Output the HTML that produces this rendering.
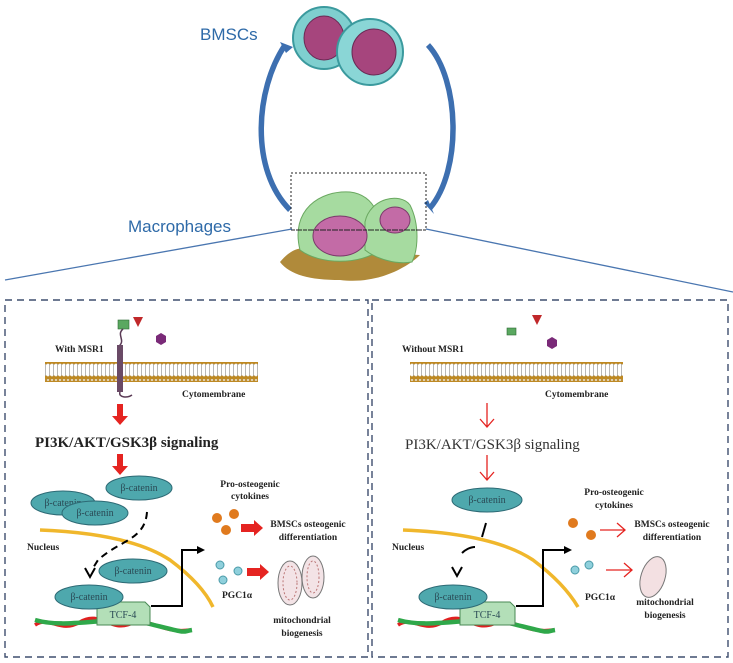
<!DOCTYPE html>
<html><head><meta charset="utf-8"><style>
html,body{margin:0;padding:0;background:#fff}
svg{display:block}
.b{font-family:"Liberation Serif",serif;font-weight:bold;fill:#222}
.s{font-family:"Liberation Sans",sans-serif;fill:#2e6aa8}
.bc{font-family:"Liberation Serif",serif;font-size:10px;fill:#2a4a55}
</style></head><body>
<svg width="733" height="663" viewBox="0 0 733 663" xmlns="http://www.w3.org/2000/svg">
<defs>
<pattern id="mem" x="0" y="0" width="4" height="20" patternUnits="userSpaceOnUse">
<circle cx="2" cy="2.2" r="2.1" fill="#c08a22" stroke="#9a6a10" stroke-width="0.3"/>
<line x1="1.5" y1="4" x2="1.5" y2="16" stroke="#999" stroke-width="0.7"/>
<circle cx="2" cy="17.8" r="2.1" fill="#c08a22" stroke="#9a6a10" stroke-width="0.3"/>
</pattern>
<marker id="bk" markerWidth="8" markerHeight="8" refX="6" refY="4" orient="auto" markerUnits="userSpaceOnUse"><path d="M0,0 L8,4 L0,8 z" fill="#000"/></marker>
</defs>

<!-- top -->
<text x="200" y="40" class="s" font-size="17">BMSCs</text>
<text x="128" y="232" class="s" font-size="17">Macrophages</text>
<path d="M285,45 C255,90 250,170 290,210" fill="none" stroke="#3d6fb0" stroke-width="5.5"/>
<path d="M280,42 L293,47 L286,53 z" fill="#3d6fb0"/>
<path d="M428,45 C460,80 462,170 430,208" fill="none" stroke="#3d6fb0" stroke-width="5.5"/>
<path d="M424,203 L434,214 L428,200 z" fill="#3d6fb0"/>
<circle cx="324" cy="38" r="31" fill="#7fcfcf" stroke="#3b9a9e" stroke-width="2"/>
<ellipse cx="324" cy="38" rx="20" ry="22" fill="#a6457d" stroke="#6a2a55"/>
<circle cx="370" cy="52" r="33" fill="#8ad6d6" stroke="#3b9a9e" stroke-width="2"/>
<ellipse cx="374" cy="52" rx="22" ry="23" fill="#a6457d" stroke="#6a2a55"/>
<path d="M280,262 C290,250 300,245 315,250 L420,255 C410,265 380,285 340,280 C310,280 290,275 280,262z" fill="#b08a3a"/>
<path d="M300,250 C290,210 320,190 350,192 C375,195 385,220 380,250 C360,265 320,265 300,250z" fill="#a6dba0" stroke="#6aa860"/>
<path d="M365,222 C370,198 400,192 410,205 C420,225 418,250 412,262 C395,265 375,258 365,250z" fill="#a6dba0" stroke="#6aa860"/>
<ellipse cx="340" cy="236" rx="27" ry="20" fill="#c36ba6" stroke="#7a3a6a"/>
<ellipse cx="395" cy="220" rx="15" ry="13" fill="#c36ba6" stroke="#7a3a6a"/>
<rect x="291" y="173" width="135" height="57" fill="none" stroke="#222" stroke-dasharray="2,2" stroke-width="1"/>
<line x1="291" y1="230" x2="426" y2="230" stroke="#222" stroke-dasharray="4,2"/>
<line x1="292" y1="229" x2="5" y2="280" stroke="#4a76b0" stroke-width="1.3"/>
<line x1="426" y1="229" x2="733" y2="292" stroke="#4a76b0" stroke-width="1.3"/>

<!-- panels -->
<rect x="5" y="300" width="363" height="357" fill="none" stroke="#3e4e6e" stroke-width="1.4" stroke-dasharray="7,5"/>
<rect x="372" y="300" width="356" height="357" fill="none" stroke="#3e4e6e" stroke-width="1.4" stroke-dasharray="7,5"/>

<!-- LEFT -->
<rect x="45" y="362" width="213" height="20" fill="url(#mem)"/>
<rect x="118" y="320" width="11" height="9" fill="#5aa860" stroke="#2d6a35" stroke-width="0.6"/>
<path d="M133,317 L143,317 L138,327 z" fill="#c0282a"/>
<polygon points="156,336 161,333 166,336 166,342 161,345 156,342" fill="#7a2a78"/>
<path d="M123,329 C116,335 126,340 119,346" fill="none" stroke="#5a3a55" stroke-width="1.5"/>
<rect x="117" y="345" width="6" height="47" fill="#6a4a66"/>
<path d="M120,392 C118,398 128,398 132,395" fill="none" stroke="#5a3a55" stroke-width="1.5"/>
<text x="55" y="352" class="b" font-size="9.5">With MSR1</text>
<text x="182" y="397" class="b" font-size="9.5">Cytomembrane</text>
<path d="M117,404 h6 v12 h5 l-8,9 l-8,-9 h5z" fill="#e52421"/>
<text x="35" y="447" class="b" font-size="15">PI3K/AKT/GSK3β signaling</text>
<path d="M117,454 h6 v12 h5 l-8,9 l-8,-9 h5z" fill="#e52421"/>
<ellipse cx="63" cy="503" rx="32" ry="12" fill="#4ea8ad" stroke="#2d6a75"/>
<text x="63" y="506" class="bc" text-anchor="middle">β-catenin</text>
<ellipse cx="95" cy="513" rx="33" ry="12" fill="#4ea8ad" stroke="#2d6a75"/>
<text x="95" y="516" class="bc" text-anchor="middle">β-catenin</text>
<ellipse cx="139" cy="488" rx="33" ry="12" fill="#4ea8ad" stroke="#2d6a75"/>
<text x="139" y="491" class="bc" text-anchor="middle">β-catenin</text>
<path d="M40,530 C90,532 140,540 170,560 C190,575 205,590 213,607" fill="none" stroke="#f0b72c" stroke-width="3.5"/>
<text x="27" y="550" class="b" font-size="9.5">Nucleus</text>
<path d="M147,512 C145,540 120,540 98,560 L93,568" fill="none" stroke="#000" stroke-width="2" stroke-dasharray="7,5"/>
<path d="M85,568 L90,577 L95,568" fill="none" stroke="#000" stroke-width="2"/>
<ellipse cx="133" cy="571" rx="34" ry="12" fill="#4ea8ad" stroke="#2d6a75"/>
<text x="133" y="574" class="bc" text-anchor="middle">β-catenin</text>
<path d="M35,625 C50,615 60,634 80,622 S110,632 130,624 S160,634 190,630" fill="none" stroke="#e02020" stroke-width="3.5"/>
<path d="M35,620 C70,630 110,614 150,624 S180,632 192,630" fill="none" stroke="#2fa84a" stroke-width="4.5"/>
<path d="M97,602 H145 L150,607 V625 H97z" fill="#b3dfb8" stroke="#4a8a55"/>
<text x="123" y="618" class="bc" text-anchor="middle">TCF-4</text>
<ellipse cx="89" cy="597" rx="34" ry="12" fill="#4ea8ad" stroke="#2d6a75"/>
<text x="89" y="600" class="bc" text-anchor="middle">β-catenin</text>
<path d="M151,606 H182 V550 H203" fill="none" stroke="#000" stroke-width="2" marker-end="url(#bk)"/>
<text x="250" y="487" class="b" font-size="9.5" text-anchor="middle">Pro-osteogenic</text>
<text x="250" y="499" class="b" font-size="9.5" text-anchor="middle">cytokines</text>
<circle cx="217" cy="518" r="5" fill="#e07a1e"/><circle cx="234" cy="514" r="5" fill="#e07a1e"/><circle cx="226" cy="530" r="5" fill="#e07a1e"/>
<path d="M241,524 h13 v-4 l9,8 l-9,8 v-4 h-13z" fill="#e52421"/>
<text x="308" y="527" class="b" font-size="9.5" text-anchor="middle">BMSCs osteogenic</text>
<text x="308" y="540" class="b" font-size="9.5" text-anchor="middle">differentiation</text>
<circle cx="220" cy="565" r="4" fill="#8fd0dc" stroke="#4a9aa8"/><circle cx="238" cy="571" r="4" fill="#8fd0dc" stroke="#4a9aa8"/><circle cx="223" cy="580" r="4" fill="#8fd0dc" stroke="#4a9aa8"/>
<path d="M247,568 h13 v-4 l9,8 l-9,8 v-4 h-13z" fill="#e52421"/>
<text x="222" y="598" class="b" font-size="9.5">PGC1α</text>
<ellipse cx="290" cy="583" rx="12" ry="22" fill="#f3e3e6" stroke="#777"/>
<ellipse cx="290" cy="583" rx="7" ry="17" fill="none" stroke="#b77" stroke-dasharray="2,2"/>
<ellipse cx="313" cy="577" rx="11" ry="21" fill="#f3e3e6" stroke="#777"/>
<ellipse cx="313" cy="577" rx="6" ry="16" fill="none" stroke="#b77" stroke-dasharray="2,2"/>
<text x="302" y="623" class="b" font-size="9.5" text-anchor="middle">mitochondrial</text>
<text x="302" y="636" class="b" font-size="9.5" text-anchor="middle">biogenesis</text>

<!-- RIGHT -->
<rect x="410" y="362" width="213" height="20" fill="url(#mem)"/>
<rect x="507" y="328" width="9" height="7" fill="#5aa860" stroke="#2d6a35" stroke-width="0.6"/>
<path d="M532,315 L542,315 L537,325 z" fill="#c0282a"/>
<polygon points="547,340 552,337 557,340 557,346 552,349 547,346" fill="#7a2a78"/>
<text x="402" y="352" class="b" font-size="9.5">Without MSR1</text>
<text x="545" y="397" class="b" font-size="9.5">Cytomembrane</text>
<path d="M487,403 V427 M480,419 L487,427 L494,419" fill="none" stroke="#e52421" stroke-width="1.3"/>
<text x="405" y="449" font-family="Liberation Serif,serif" font-size="15" fill="#333">PI3K/AKT/GSK3β signaling</text>
<path d="M487,455 V480 M480,472 L487,480 L494,472" fill="none" stroke="#e52421" stroke-width="1.3"/>
<ellipse cx="487" cy="500" rx="35" ry="12" fill="#4ea8ad" stroke="#2d6a75"/>
<text x="487" y="503" class="bc" text-anchor="middle">β-catenin</text>
<path d="M403,530 C453,532 503,540 533,560 C553,575 568,590 578,607" fill="none" stroke="#f0b72c" stroke-width="3.5"/>
<text x="392" y="550" class="b" font-size="9.5">Nucleus</text>
<path d="M486,523 L482,537" stroke="#000" stroke-width="2"/>
<path d="M475,547 C470,547 465,550 462,553" fill="none" stroke="#000" stroke-width="2"/>
<path d="M452,567 L457,576 L462,567" fill="none" stroke="#000" stroke-width="2"/>
<path d="M398,625 C413,615 423,634 443,622 S473,632 493,624 S523,634 553,630" fill="none" stroke="#e02020" stroke-width="3.5"/>
<path d="M398,620 C433,630 473,614 513,624 S543,632 555,630" fill="none" stroke="#2fa84a" stroke-width="4.5"/>
<path d="M460,602 H510 L515,607 V625 H460z" fill="#b3dfb8" stroke="#4a8a55"/>
<text x="487" y="618" class="bc" text-anchor="middle">TCF-4</text>
<ellipse cx="453" cy="597" rx="34" ry="12" fill="#4ea8ad" stroke="#2d6a75"/>
<text x="453" y="600" class="bc" text-anchor="middle">β-catenin</text>
<path d="M516,606 H543 V550 H570" fill="none" stroke="#000" stroke-width="2" marker-end="url(#bk)"/>
<text x="614" y="495" class="b" font-size="9.5" text-anchor="middle">Pro-osteogenic</text>
<text x="614" y="508" class="b" font-size="9.5" text-anchor="middle">cytokines</text>
<circle cx="573" cy="523" r="5" fill="#e07a1e"/><circle cx="591" cy="535" r="5" fill="#e07a1e"/>
<path d="M600,530 H625 M617,523 L625,530 L617,537" fill="none" stroke="#e52421" stroke-width="1.3"/>
<text x="672" y="527" class="b" font-size="9.5" text-anchor="middle">BMSCs osteogenic</text>
<text x="672" y="540" class="b" font-size="9.5" text-anchor="middle">differentiation</text>
<circle cx="575" cy="570" r="4" fill="#8fd0dc" stroke="#4a9aa8"/><circle cx="589" cy="565" r="4" fill="#8fd0dc" stroke="#4a9aa8"/>
<path d="M606,570 H632 M624,563 L632,570 L624,577" fill="none" stroke="#e52421" stroke-width="1.3"/>
<text x="585" y="600" class="b" font-size="9.5">PGC1α</text>
<ellipse cx="653" cy="577" rx="12" ry="21" transform="rotate(18 653 577)" fill="#f3e0e2" stroke="#777"/>
<text x="665" y="605" class="b" font-size="9.5" text-anchor="middle">mitochondrial</text>
<text x="665" y="618" class="b" font-size="9.5" text-anchor="middle">biogenesis</text>
</svg>
</body></html>
